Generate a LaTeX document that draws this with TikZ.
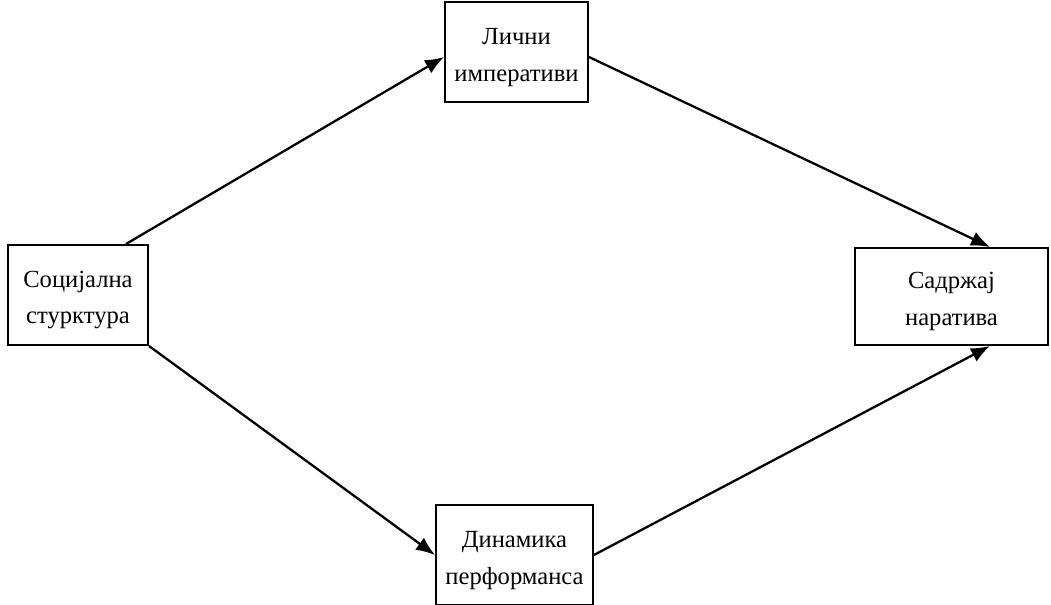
\documentclass[tikz,border=0pt]{standalone}
\usepackage{fontspec}
\setmainfont{Liberation Serif}
\usetikzlibrary{arrows.meta,calc}
\newcommand{\topgap}{\rule{0pt}{15pt}}

\begin{document}
\begin{tikzpicture}[>={Latex[length=0.38cm,width=0.3cm]},
  box/.style={draw,line width=1.1pt,align=center,inner sep=0pt,
    font=\fontsize{14}{21}\selectfont},
  link/.style={->,line width=1.3pt}]
\useasboundingbox (0,0) rectangle (21.02,12.1);
% the four boxes
\node[box,minimum width=2.8cm,minimum height=2.0cm] (soc) at (1.56,6.2) {\topgap Социјална\\стурктура};
\node[box,minimum width=2.86cm,minimum height=2.0cm] (lic) at (10.33,11.06) {\topgap Лични\\императиви};
\node[box,minimum width=3.14cm,minimum height=2.0cm] (din) at (10.29,1.0) {\topgap Динамика\\перформанса};
\node[box,minimum width=3.86cm,minimum height=1.94cm] (sad) at (19.03,6.17) {\topgap Садржај\\наратива};
% the four arrows
\draw[link] ($(soc.north east)+(-0.46,0)$) -- ($(lic.west)+(0,-0.1)$);
\draw[link] ($(lic.east)+(0,-0.1)$) -- ($(sad.north)+(0.77,0)$);
\draw[link] (soc.south east) -- (din.west);
\draw[link] (din.east) -- ($(sad.south)+(0.77,0)$);
\end{tikzpicture}
\end{document}
